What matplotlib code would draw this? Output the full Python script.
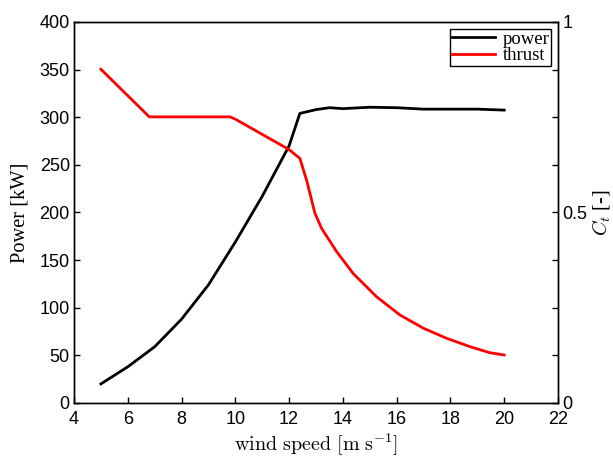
import matplotlib
matplotlib.use('Agg')
import matplotlib.pyplot as plt

# power curve
ws_power = [5, 6, 7, 8, 9, 10, 11, 12, 12.4, 13, 13.5, 14, 15, 16, 17, 18, 19, 20]
power = [20, 38, 59, 88, 124, 169, 217, 270, 304, 308, 310, 309, 310.5, 310, 308.5, 308.5, 308.5, 307.5]

# thrust coefficient
ws_thrust = [5, 6.8, 9.8, 10, 11, 12, 12.4, 12.65, 12.96, 13.21, 13.77, 14.38, 15.25, 16.12, 17.0, 17.85, 18.72, 19.46, 20]
ct = [0.876, 0.751, 0.751, 0.745, 0.705, 0.665, 0.642, 0.585, 0.498, 0.458, 0.397, 0.340, 0.279, 0.231, 0.196, 0.170, 0.148, 0.132, 0.126]

plt.rcParams['mathtext.fontset'] = 'cm'
tickfont = 'Liberation Sans'
labfont = 'Liberation Serif'

fig = plt.figure(figsize=(6.13, 4.57), dpi=100)
ax = fig.add_axes([0.1207, 0.1182, 0.7896, 0.8337])
ax2 = ax.twinx()

l1, = ax.plot(ws_power, power, color='black', lw=2, label='power')
l2, = ax2.plot(ws_thrust, ct, color='red', lw=2, label='thrust')

ax.set_xlim(4, 22)
ax.set_ylim(0, 400)
ax2.set_ylim(0, 1)
ax.set_xticks(range(4, 23, 2))
ax.set_yticks(range(0, 401, 50))
ct_ticks = [i * 0.125 for i in range(9)]
ax2.set_yticks(ct_ticks)
ax2.set_yticklabels(['0' if t == 0 else '0.5' if t == 0.5 else '1' if t == 1 else '' for t in ct_ticks])

for a in (ax, ax2):
    a.tick_params(direction='in', length=4, width=1, labelsize=13, pad=3)
    for lab in a.get_xticklabels() + a.get_yticklabels():
        lab.set_family(tickfont)
    for s in a.spines.values():
        s.set_linewidth(1)
ax.tick_params(axis='x', pad=6)
ax.tick_params(top=False, right=False)
ax2.tick_params(right=True, left=False)

ax.set_xlabel(r'$\mathrm{wind\ speed\ [m\ s^{-1}]}$', fontsize=14.5, labelpad=2)
ax.set_ylabel('Power [kW]', family=labfont, fontsize=14.7, labelpad=7)
ax2.set_ylabel(r'$C_t$ [-]', family=labfont, fontsize=14.5, labelpad=2)

leg = ax2.legend([l1, l2], ['power', 'thrust'], loc='upper right', prop={'family': labfont, 'size': 13.5},
                 fancybox=False, edgecolor='black', framealpha=1, handlelength=2.3,
                 borderpad=0.1, labelspacing=-0.02, handletextpad=0.4, borderaxespad=0.35)
leg.get_frame().set_linewidth(1)

fig.savefig('out.png', dpi=100)
